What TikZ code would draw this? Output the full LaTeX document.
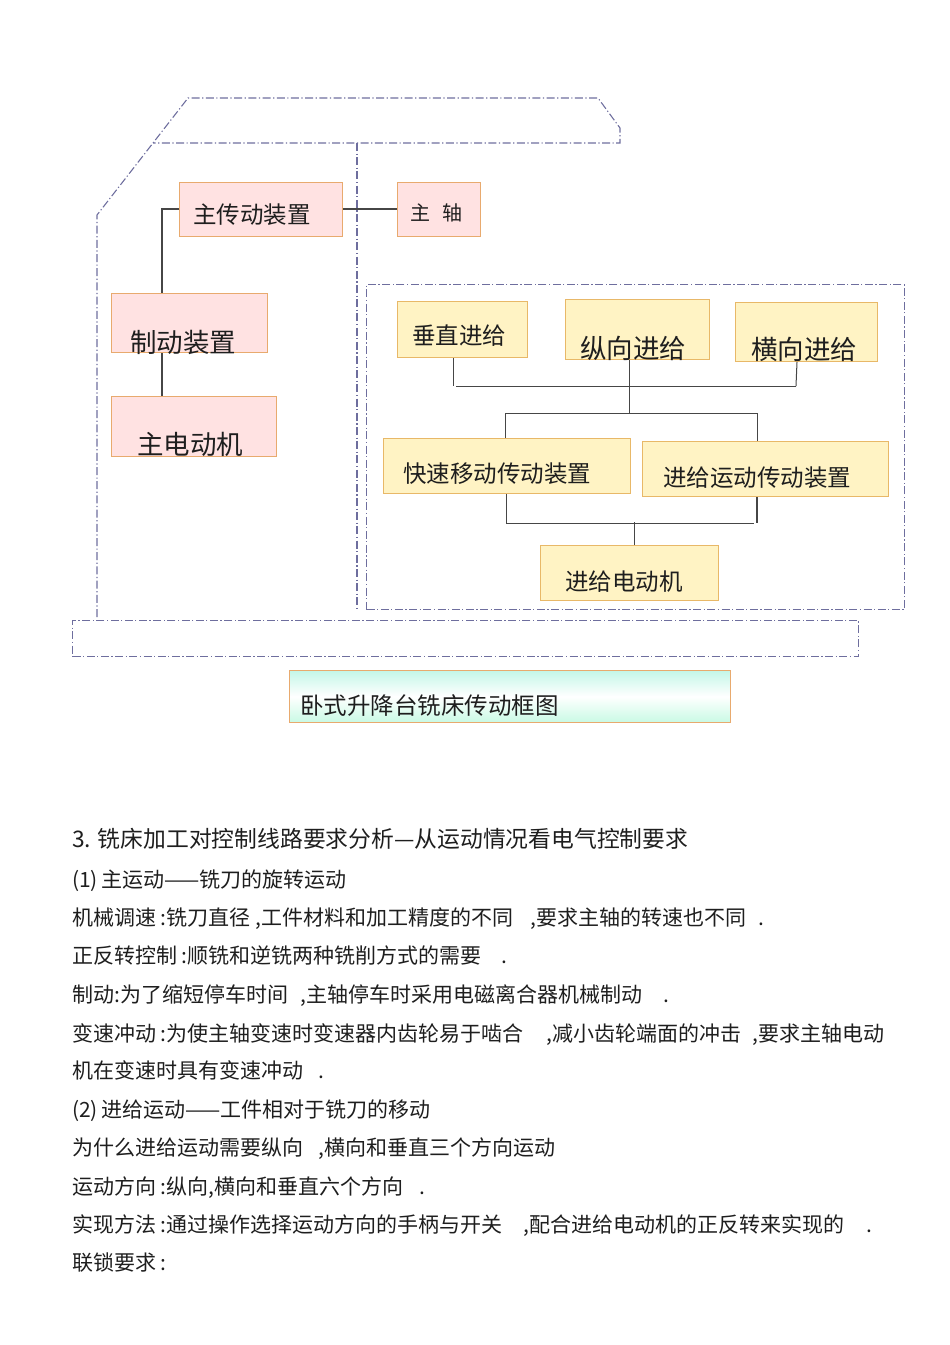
\documentclass[tikz,border=0pt]{standalone}
\usepackage{fontspec}
\setmainfont{Noto Sans CJK SC}
\usetikzlibrary{calc}
\definecolor{pinkfill}{RGB}{255,226,226}
\definecolor{pinkedge}{RGB}{232,170,110}
\definecolor{yelfill}{RGB}{255,243,196}
\definecolor{yeledge}{RGB}{232,184,104}
\definecolor{dashc}{RGB}{110,110,158}
\definecolor{linec}{RGB}{70,70,70}
\definecolor{textc}{RGB}{30,30,30}
\definecolor{cyantop}{RGB}{196,246,232}
\definecolor{cyanbot}{RGB}{200,250,228}
\tikzset{
  dashdot/.style={draw=dashc, line width=1.1pt, dash pattern=on 8pt off 2.5pt on 1.2pt off 2.5pt},
  pinkbox/.style={draw=pinkedge, fill=pinkfill, line width=1.1pt, anchor=north west, inner sep=0pt},
  yelbox/.style={draw=yeledge, fill=yelfill, line width=1.1pt, anchor=north west, inner sep=0pt},
  boxtext/.style={anchor=west, inner sep=0pt, text=textc, font=\fontsize{23.5}{26}\selectfont},
  bigtext/.style={anchor=west, inner sep=0pt, text=textc, font=\fontsize{26.5}{29}\selectfont},
  conn/.style={draw=linec, line width=1.2pt},
  body/.style={anchor=west, inner sep=0pt, text height=23pt, text depth=5pt, text=textc, font=\fontsize{21}{23}\selectfont},
}
\begin{document}
\begin{tikzpicture}[x=1pt,y=-1pt]
\useasboundingbox (0,0) rectangle (950,1345);
% outer frame (spindle / column)
\coordinate (fa) at (97,617);
\coordinate (fb) at (97,215);
\coordinate (fc) at (188,98);
\coordinate (fd) at (598,98);
\coordinate (fe) at (620,128);
\coordinate (ff) at (620,143);
\coordinate (fg) at (153,143);
\coordinate (fh) at (357,143);
\coordinate (fi) at (357,610);
\draw[dashdot] (fa) -- (fb) -- (fc) -- (fd) -- (fe) -- (ff) -- (fg);
\draw[dashdot] (fh) -- (fi);
% feed section frame
\node[dashdot, anchor=north west, minimum width=538, minimum height=325, inner sep=0pt] (feedframe) at (366,284) {};
% base frame
\node[dashdot, anchor=north west, minimum width=786, minimum height=36, inner sep=0pt] (baseframe) at (72,620) {};
% main drive boxes
\node[pinkbox, minimum width=163, minimum height=54] (zcd) at (179,182) {};
\node[boxtext] (zcdt) at (193,215) {主传动装置};
\node[pinkbox, minimum width=83, minimum height=54] (zz) at (397,182) {};
\node[boxtext, font=\fontsize{20}{24}\selectfont] (zzt) at (410,213) {主\hspace{12pt}轴};
\node[pinkbox, minimum width=156, minimum height=59] (zd) at (111,293) {};
\node[bigtext] (zdt) at (130,342) {制动装置};
\node[pinkbox, minimum width=165, minimum height=60] (zdj) at (111,396) {};
\node[bigtext] (zdjt) at (137,444) {主电动机};
% main drive connectors
\draw[conn] ($(zcd.north west)+(0,27)$) -| ($(zd.north west)+(51,0)$);
\draw[conn] ($(zd.south west)+(51,0)$) -- ($(zdj.north west)+(51,0)$);
\draw[conn] ($(zcd.north east)+(0,27)$) -- ($(zz.north west)+(0,27)$);
% feed boxes
\node[yelbox, minimum width=130, minimum height=56] (cz) at (397,301) {};
\node[boxtext] (czt) at (412,336) {垂直进给};
\node[yelbox, minimum width=144, minimum height=60] (zx) at (565,299) {};
\node[bigtext] (zxt) at (580,348) {纵向进给};
\node[yelbox, minimum width=142, minimum height=59] (hx) at (735,302) {};
\node[bigtext] (hxt) at (751,349) {横向进给};
\node[yelbox, minimum width=247, minimum height=55] (ks) at (383,438) {};
\node[boxtext] (kst) at (403,474) {快速移动传动装置};
\node[yelbox, minimum width=246, minimum height=55] (jg) at (642,441) {};
\node[boxtext] (jgt) at (663,478) {进给运动传动装置};
\node[yelbox, minimum width=178, minimum height=55] (jd) at (540,545) {};
\node[boxtext] (jdt) at (565,582) {进给电动机};
% feed connectors
\coordinate (j1) at (453,386);
\coordinate (j2) at (796,386);
\coordinate (j3) at (629,413);
\coordinate (j4) at (634,522);
\draw[conn, line width=1pt] ($(cz.south west)+(56,0)$) -- (j1);
\draw[conn, line width=1pt] ($(j1)+(3,0)$) -- (j2);
\draw[conn, line width=1pt] ($(hx.south west)+(62,0)$) -- (j2);
\draw[conn, line width=1pt] ($(zx.south west)+(64,0)$) -- (j3);
\draw[conn, line width=1pt] ($(ks.north west)+(122,0)$) |- ($(jg.north west)+(115,-28)$) -- ($(jg.north west)+(115,0)$);
\draw[conn, line width=1pt] ($(ks.south west)+(123,0)$) |- ($(jg.south west)+(112,26)$);
\draw[conn, line width=1.6pt] ($(jg.south west)+(115,0)$) -- ($(jg.south west)+(115,26)$);
\draw[conn, line width=1pt] (j4) -- (j4 |- jd.north);
% title box
\node[draw=pinkedge, line width=1.1pt, anchor=north west, minimum width=441, minimum height=52, inner sep=0pt,
      top color=cyantop, bottom color=cyanbot, middle color=white] (title) at (289,670) {};
\node[boxtext] (titlet) at (300,706) {卧式升降台铣床传动框图};
% body text
\node[body, font=\fontsize{22.8}{25}\selectfont] (l1) at (72,838) {3. 铣床加工对控制线路要求分析—从运动情况看电气控制要求};
\node[body] (l2) at (72,878) {(1)\,主运动——铣刀的旋转运动};
\node[body] (l3a) at (72,916) {机械调速 :铣刀直径 ,工件材料和加工精度的不同};
\node[body] (l3b) at (530,916) {,要求主轴的转速也不同};
\node[body] (l3c) at (758,916) {.};
\node[body] (l4a) at (72,954) {正反转控制 :顺铣和逆铣两种铣削方式的需要};
\node[body] (l4b) at (501,954) {.};
\node[body] (l5a) at (72,993) {制动:为了缩短停车时间};
\node[body] (l5b) at (300,993) {,主轴停车时采用电磁离合器机械制动};
\node[body] (l5c) at (663,993) {.};
\node[body] (l6a) at (72,1032) {变速冲动 :为使主轴变速时变速器内齿轮易于啮合};
\node[body] (l6b) at (546,1032) {,减小齿轮端面的冲击};
\node[body] (l6c) at (752,1032) {,要求主轴电动};
\node[body] (l7a) at (72,1069) {机在变速时具有变速冲动};
\node[body] (l7b) at (318,1069) {.};
\node[body] (l8) at (72,1108) {(2)\,进给运动——工件相对于铣刀的移动};
\node[body] (l9a) at (72,1146) {为什么进给运动需要纵向};
\node[body] (l9b) at (318,1146) {,横向和垂直三个方向运动};
\node[body] (l10a) at (72,1185) {运动方向 :纵向,横向和垂直六个方向};
\node[body] (l10b) at (419,1185) {.};
\node[body] (l11a) at (72,1223) {实现方法 :通过操作选择运动方向的手柄与开关};
\node[body] (l11b) at (523,1223) {,配合进给电动机的正反转来实现的};
\node[body] (l11c) at (866,1223) {.};
\node[body] (l12) at (72,1261) {联锁要求 :};
\end{tikzpicture}
\end{document}
